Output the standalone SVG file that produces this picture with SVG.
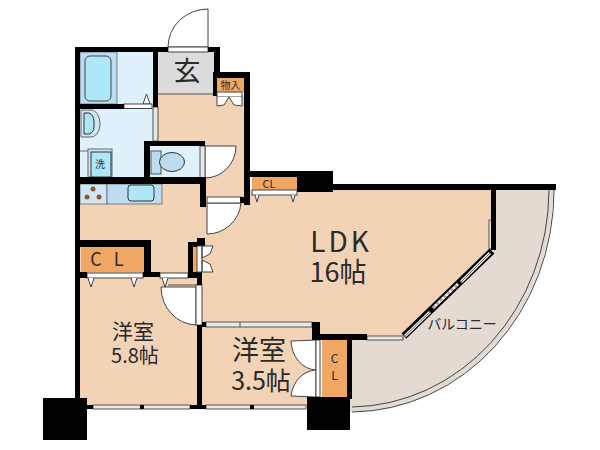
<svg xmlns="http://www.w3.org/2000/svg" width="600" height="450" viewBox="0 0 600 450">
<style>
text{font-family:"Noto Sans CJK JP","Noto Sans",sans-serif;fill:#2a2a2a;text-anchor:middle}
.w{fill:#000}
.g{fill:#e8e8e8;stroke:#555;stroke-width:1}
.s{fill:#fff;stroke:#444;stroke-width:1}
.o{fill:#f0a763}
.tri{fill:#fff;stroke:#444;stroke-width:1}
</style>
<rect width="600" height="450" fill="#fff"/>
<g id="balcony">
<path d="M350 188H553A204 222 0 0 1 350 412Z" fill="#e3dad2"/>
<path d="M549 190A200 218 0 0 1 352 407M554 190A204 222 0 0 1 352 412" fill="none" stroke="#444" stroke-width="1"/>
<text x="462" y="329" font-size="14">バルコニー</text>
</g>
<g id="floors">
<path d="M80 184H200V195H244V190H492V250L403 335H320V405H80Z" fill="#f3d3b6"/>
<rect x="158" y="94" width="86" height="101" fill="#f3d3b6"/>
<rect x="158" y="52" width="57" height="42" fill="#dcdcdc"/>
<path d="M158 94H214" stroke="#555"/>
<rect x="80" y="52" width="74" height="53" fill="#dff2fb"/>
<rect x="80" y="108" width="74" height="70" fill="#dff2fb"/>
<rect x="150" y="146" width="51" height="32" fill="#dff2fb"/>
</g>
<g id="bath">
<rect x="80" y="52" width="37" height="52" fill="#bcdcf2" stroke="#666" stroke-width=".8"/>
<rect x="85" y="56" width="26" height="45" rx="5" fill="#aee8f8" stroke="#444"/>
<path d="M143 104L146.500 94L150 104Z" class="tri"/>
<path d="M81 110H90A9 14 0 0 1 100 124V125A9 13 0 0 1 90 137H81Z" fill="#cfe6f5" stroke="#666"/>
<path d="M84 113H89A6 9 0 0 1 94 122V127A6 8 0 0 1 89 134H84Z" fill="#aee8f8" stroke="#333"/>
<path d="M80 151H89" stroke="#666"/>
<rect x="88" y="149" width="24" height="28" fill="#cfe6f5" stroke="#666"/>
<rect x="91" y="152" width="20" height="25" fill="#aee8f8" stroke="#333"/>
<text x="100" y="168" font-size="10">洗</text>
</g>
<g id="toilet">
<rect x="151" y="151" width="10" height="23" fill="#bcdcf2" stroke="#555"/>
<ellipse cx="172" cy="162" rx="12.500" ry="9.500" fill="#bcdcf2" stroke="#333"/>
<path d="M205 146H236A31 32 0 0 1 205 178Z" class="s"/>
<rect x="200" y="146" width="5" height="32" class="g"/>
</g>
<g id="kitchen">
<rect x="80" y="184" width="27" height="20" fill="#cfe6f5" stroke="#666" stroke-width=".8"/>
<rect x="107" y="184" width="55" height="20" fill="#bcdcf2" stroke="#666" stroke-width=".8"/>
<rect x="128" y="185" width="26" height="16" rx="3" fill="#aee8f8" stroke="#333"/>
<g fill="#8a5a30"><circle cx="93" cy="189" r="2.500"/><circle cx="87" cy="197" r="2.500"/><circle cx="99" cy="197" r="2.500"/></g>
</g>
<g id="connectors">
<path class="s" d="M208 9V47H168A40 38 0 0 1 208 9Z"/>
<rect x="168" y="47" width="40" height="5" class="s"/>
<rect x="124" y="104" width="28" height="4.500" class="s"/>
<rect x="153" y="107" width="5" height="34" class="g"/>
<path class="s" d="M207 203H241A34 34 0 0 1 207 234Z"/>
<rect x="207" y="197" width="34" height="6" class="s"/>
<rect x="87" y="273" width="56" height="5" class="s"/>
<rect x="160" y="273" width="28" height="5" class="s"/>
<path class="s" d="M161 287H196V325A36 38 0 0 1 161 287Z"/>
<path d="M168 285H197" stroke="#555"/>
<rect x="196" y="285" width="6" height="40" class="s"/>
<rect x="206" y="322" width="106" height="5" class="g"/>
<path d="M240 322V327" stroke="#555"/>
<path class="s" d="M316 340V370A26 30 0 0 1 291 341Z"/>
<path class="s" d="M316 397V370A26 30 0 0 0 291 396Z"/>
<rect x="316" y="340" width="4" height="57" class="s"/>
<rect x="93" y="405" width="97" height="4" class="g"/>
<rect x="140" y="405" width="4" height="4" class="w"/>
<rect x="206" y="405" width="100" height="4" class="g"/>
<rect x="250" y="405" width="4" height="4" class="w"/>
<rect x="489" y="220" width="4" height="29" class="g"/>
<rect x="367" y="336" width="36" height="4" class="g"/>
<path d="M404 336L492 251" stroke="#000" stroke-width="7"/>
<path d="M405 336L430 312M433 308L458 284M461 282L490 253" stroke="#fff" stroke-width="3"/>
<path d="M405 336L430 312M461 282L490 253" stroke="#555" stroke-width="1"/>
<path d="M433 308L458 284" stroke="#999" stroke-width="2" stroke-dasharray="3 2"/>
</g>
<g id="walls" class="w">
<rect x="75" y="47" width="5" height="358"/>
<rect x="75" y="47" width="93" height="5"/>
<rect x="208" y="47" width="12" height="5"/>
<rect x="214" y="47" width="6" height="30"/>
<rect x="214" y="72" width="36" height="6"/>
<rect x="213" y="72" width="5" height="24"/>
<rect x="244" y="72" width="6" height="133"/>
<rect x="153" y="52" width="5" height="55"/>
<rect x="80" y="104" width="44" height="5"/>
<rect x="144" y="141" width="61" height="5"/>
<rect x="144" y="141" width="6" height="40"/>
<rect x="75" y="177" width="130" height="7"/>
<rect x="200" y="177" width="6" height="30"/>
<rect x="240" y="197" width="10" height="6"/>
<rect x="250" y="171" width="83" height="6"/>
<rect x="297" y="171" width="36" height="21"/>
<rect x="297" y="184" width="259" height="6"/>
<rect x="491" y="190" width="5" height="60"/>
<rect x="75" y="240" width="76" height="7"/>
<rect x="144" y="240" width="7" height="37"/>
<rect x="75" y="272" width="12" height="6"/>
<rect x="143" y="272" width="17" height="5"/>
<rect x="188" y="242" width="9" height="36"/>
<rect x="197" y="238" width="8" height="8"/>
<rect x="197" y="272" width="5" height="13"/>
<rect x="197" y="325" width="5" height="84"/>
<rect x="202" y="322" width="4" height="5"/>
<rect x="312" y="322" width="8" height="18"/>
<rect x="312" y="334" width="55" height="6"/>
<rect x="347" y="339" width="5" height="60"/>
<rect x="87" y="405" width="6" height="4"/>
<rect x="190" y="405" width="16" height="4"/>
<rect x="43" y="398" width="44" height="42"/>
<rect x="307" y="397" width="43" height="33"/>
</g>
<g id="genkan"><text x="187" y="81" font-size="27">玄</text></g>
<g id="storage">
<rect x="217" y="78" width="27" height="14" class="o"/>
<text x="230.500" y="89" font-size="10">物入</text>
<rect x="217" y="92" width="25" height="5" class="s"/>
<path d="M217 97V106L224 105L229 97M242 97V106L234 105L229 97" class="s"/>
</g>
<g id="cl-top">
<rect x="252" y="177" width="45" height="13" class="o"/>
<text x="269" y="188" font-size="11">CL</text>
<rect x="252" y="190" width="45" height="5" class="s"/>
<path d="M255 195L257 202L259 195M291 195L293 202L295 195" class="tri"/>
</g>
<g id="cl-left">
<rect x="81" y="247" width="63" height="25" class="o"/>
<text x="113" y="266" font-size="18" style="letter-spacing:12px">CL</text>
<path d="M88 278L91 287L94 278M131 278L134 287L137 278M162 278L165 287L168 278" class="tri"/>
</g>
<g id="shoe">
<rect x="193" y="247" width="4" height="25" class="o"/>
<path d="M197 246H202V272H197ZM202 246H213L210 254L202 258ZM202 272H213L210 264L202 260Z" class="s"/>
</g>
<g id="cl-right">
<rect x="322" y="340" width="25" height="57" class="o"/>
<text x="334.500" y="363" font-size="12">C</text>
<text x="334.500" y="380" font-size="12">L</text>
</g>
<g id="ldk"><text x="341" y="252" font-size="28" style="letter-spacing:3px">LDK</text><text x="338" y="282" font-size="27">16帖</text></g>
<g id="room1"><text x="133" y="339" font-size="21">洋室</text><text x="135" y="363" font-size="20">5.8帖</text></g>
<g id="room2"><text x="259" y="360" font-size="27">洋室</text><text x="261" y="390" font-size="25">3.5帖</text></g>
</svg>
